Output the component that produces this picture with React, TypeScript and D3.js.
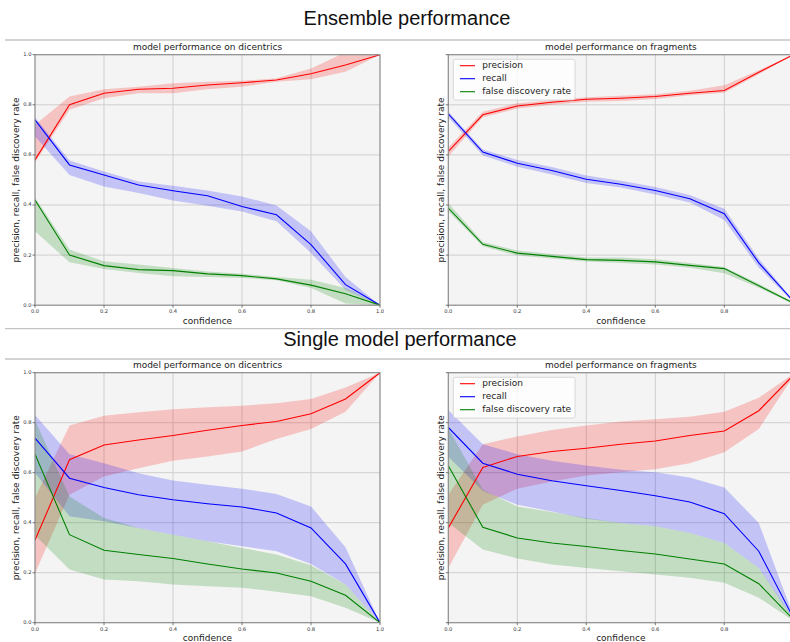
import React from 'react';
import * as d3 from 'd3';

const confidence = [0, 0.1, 0.2, 0.3, 0.4, 0.5, 0.6, 0.7, 0.8, 0.9, 1.0];
const tickValues = [0, 0.2, 0.4, 0.6, 0.8, 1.0];
const seriesNames = ['precision', 'recall', 'false discovery rate'];
const seriesColors = ['#ff0000', '#0000ff', '#008000'];

// Ensemble – dicentrics
const ensDicPrec = [0.58, 0.80, 0.846, 0.862, 0.866, 0.879, 0.888, 0.899, 0.924, 0.959, 1.0];
const ensDicPrecLo = [0.57, 0.78, 0.826, 0.846, 0.846, 0.862, 0.872, 0.892, 0.902, 0.932, 1.0];
const ensDicPrecHi = [0.72, 0.833, 0.862, 0.872, 0.886, 0.892, 0.896, 0.906, 0.945, 1.01, 1.0];
const ensDicRec = [0.74, 0.56, 0.52, 0.48, 0.457, 0.437, 0.394, 0.361, 0.242, 0.082, 0.0];
const ensDicRecLo = [0.673, 0.52, 0.474, 0.448, 0.418, 0.397, 0.374, 0.335, 0.208, 0.062, 0.0];
const ensDicRecHi = [0.75, 0.578, 0.534, 0.494, 0.477, 0.458, 0.434, 0.398, 0.295, 0.113, 0.0];
const ensDicFdr = [0.42, 0.20, 0.158, 0.142, 0.138, 0.125, 0.118, 0.105, 0.08, 0.046, 0.0];
const ensDicFdrLo = [0.295, 0.171, 0.145, 0.129, 0.116, 0.113, 0.109, 0.10, 0.069, 0.007, 0.0];
const ensDicFdrHi = [0.43, 0.222, 0.175, 0.162, 0.149, 0.135, 0.126, 0.113, 0.102, 0.069, 0.0];

// Ensemble – fragments
const ensFragPrec = [0.614, 0.76, 0.795, 0.81, 0.822, 0.826, 0.833, 0.846, 0.857, 0.93, 1.0];
const ensFragPrecLo = [0.594, 0.75, 0.785, 0.80, 0.812, 0.815, 0.823, 0.838, 0.848, 0.922, 1.0];
const ensFragPrecHi = [0.63, 0.772, 0.806, 0.818, 0.83, 0.836, 0.842, 0.856, 0.878, 0.938, 1.0];
const ensFragRec = [0.764, 0.611, 0.567, 0.538, 0.503, 0.483, 0.458, 0.425, 0.365, 0.169, 0.016];
const ensFragRecLo = [0.75, 0.598, 0.553, 0.522, 0.488, 0.47, 0.442, 0.41, 0.34, 0.15, 0.012];
const ensFragRecHi = [0.772, 0.622, 0.58, 0.552, 0.518, 0.497, 0.472, 0.44, 0.385, 0.185, 0.02];
const ensFragFdr = [0.388, 0.243, 0.208, 0.195, 0.182, 0.179, 0.173, 0.159, 0.146, 0.078, 0.009];
const ensFragFdrLo = [0.375, 0.235, 0.198, 0.186, 0.174, 0.168, 0.162, 0.15, 0.128, 0.07, 0.005];
const ensFragFdrHi = [0.408, 0.252, 0.218, 0.204, 0.19, 0.19, 0.183, 0.168, 0.152, 0.086, 0.012];

// Single model – dicentrics
const sinDicPrec = [0.33, 0.652, 0.711, 0.731, 0.749, 0.77, 0.789, 0.805, 0.836, 0.895, 1.0];
const sinDicPrecLo = [0.197, 0.512, 0.585, 0.618, 0.648, 0.665, 0.685, 0.735, 0.775, 0.844, 1.0];
const sinDicPrecHi = [0.5, 0.789, 0.828, 0.842, 0.854, 0.862, 0.868, 0.878, 0.895, 0.941, 1.0];
const sinDicRec = [0.738, 0.578, 0.541, 0.512, 0.492, 0.476, 0.463, 0.439, 0.379, 0.235, 0.0];
const sinDicRecLo = [0.6, 0.426, 0.406, 0.379, 0.352, 0.326, 0.306, 0.286, 0.235, 0.153, 0.0];
const sinDicRecHi = [0.831, 0.674, 0.638, 0.598, 0.569, 0.552, 0.536, 0.515, 0.465, 0.302, 0.0];
const sinDicFdr = [0.674, 0.352, 0.29, 0.273, 0.257, 0.235, 0.215, 0.199, 0.166, 0.11, 0.0];
const sinDicFdrLo = [0.35, 0.213, 0.173, 0.166, 0.153, 0.146, 0.14, 0.124, 0.106, 0.06, 0.0];
const sinDicFdrHi = [0.81, 0.505, 0.419, 0.379, 0.352, 0.326, 0.299, 0.273, 0.23, 0.153, 0.0];

// Single model – fragments
const sinFragPrec = [0.379, 0.621, 0.665, 0.685, 0.698, 0.714, 0.727, 0.749, 0.767, 0.848, 0.99];
const sinFragPrecLo = [0.219, 0.472, 0.536, 0.565, 0.589, 0.602, 0.614, 0.638, 0.682, 0.775, 0.985];
const sinFragPrecHi = [0.512, 0.714, 0.745, 0.771, 0.789, 0.805, 0.814, 0.824, 0.844, 0.9, 0.995];
const sinFragRec = [0.781, 0.638, 0.594, 0.568, 0.548, 0.529, 0.508, 0.483, 0.436, 0.286, 0.02];
const sinFragRecLo = [0.664, 0.528, 0.472, 0.445, 0.416, 0.399, 0.386, 0.359, 0.319, 0.219, 0.013];
const sinFragRecHi = [0.851, 0.714, 0.674, 0.648, 0.629, 0.612, 0.602, 0.581, 0.541, 0.399, 0.027];
const sinFragFdr = [0.628, 0.382, 0.339, 0.319, 0.305, 0.289, 0.275, 0.255, 0.235, 0.156, 0.013];
const sinFragFdrLo = [0.40, 0.293, 0.257, 0.233, 0.219, 0.206, 0.193, 0.18, 0.16, 0.1, 0.008];
const sinFragFdrHi = [0.778, 0.532, 0.465, 0.443, 0.419, 0.399, 0.386, 0.359, 0.319, 0.219, 0.018];

type S = { mean: number[]; lo: number[]; hi: number[] };
const mk = (mean: number[], lo: number[], hi: number[]): S => ({ mean, lo, hi });

const FONT = '"DejaVu Sans", sans-serif';

function Panel(props: {
  id: string; x0: number; y0: number; w: number; h: number; title: string;
  yTickLabels: boolean; yLabelX: number; legend: boolean; series: S[];
}) {
  const { id, x0, y0, w, h, title, yTickLabels, yLabelX, legend, series } = props;
  const x = d3.scaleLinear().domain([0, 1]).range([x0, x0 + w]);
  const y = d3.scaleLinear().domain([0, 1]).range([y0 + h, y0]);
  const fmt = d3.format('.1f');
  const idx = confidence.map((_, i) => i);
  return (
    <g>
      <defs>
        <clipPath id={id}>
          <rect x={x0} y={y0} width={w} height={h} />
        </clipPath>
      </defs>
      <rect x={x0} y={y0} width={w} height={h} fill="#f4f4f4" />
      {tickValues.slice(1, -1).map(t => (
        <g key={'g' + t}>
          <line x1={x(t)} x2={x(t)} y1={y0} y2={y0 + h} stroke="#cfcfcf" strokeWidth={1} />
          <line x1={x0} x2={x0 + w} y1={y(t)} y2={y(t)} stroke="#cfcfcf" strokeWidth={1} />
        </g>
      ))}
      <g clipPath={`url(#${id})`}>
        {series.map((s, k) => {
          const area = d3.area<number>().x(i => x(confidence[i])).y0(i => y(s.lo[i])).y1(i => y(s.hi[i]));
          return <path key={'a' + k} d={area(idx) || ''} fill={seriesColors[k]} fillOpacity={0.2} stroke="none" />;
        })}
        {series.map((s, k) => {
          const line = d3.line<number>().x(i => x(confidence[i])).y(i => y(s.mean[i]));
          return <path key={'l' + k} d={line(idx) || ''} fill="none" stroke={seriesColors[k]} strokeWidth={1.1} />;
        })}
      </g>
      <rect x={x0} y={y0} width={w} height={h} fill="none" stroke="#8a8a8a" strokeWidth={1.2} />
      {tickValues.map(t => (
        <g key={'xt' + t}>
          <line x1={x(t)} x2={x(t)} y1={y0 + h} y2={y0 + h + 2.5} stroke="#555" strokeWidth={0.8} />
          <text x={x(t)} y={y0 + h + 6.8} fontSize={5.2} fontFamily={FONT} fill="#333" textAnchor="middle" dominantBaseline="middle">{fmt(t)}</text>
        </g>
      ))}
      {tickValues.map(t => (
        <g key={'yt' + t}>
          <line x1={x0 - 2.5} x2={x0} y1={y(t)} y2={y(t)} stroke="#555" strokeWidth={0.8} />
          {yTickLabels && (
            <text x={x0 - 3.5} y={y(t)} fontSize={5.2} fontFamily={FONT} fill="#333" textAnchor="end" dominantBaseline="middle">{fmt(t)}</text>
          )}
        </g>
      ))}
      <text x={x0 + w / 2} y={y0 - 7.4} fontSize={9} fontFamily={FONT} fill="#222" textAnchor="middle" dominantBaseline="middle">{title}</text>
      <text x={x0 + w / 2} y={y0 + h + 16} fontSize={9} fontFamily={FONT} fill="#222" textAnchor="middle" dominantBaseline="middle">confidence</text>
      <text transform={`translate(${yLabelX},${y0 + h / 2}) rotate(-90)`} fontSize={9} fontFamily={FONT} fill="#222" textAnchor="middle" dominantBaseline="middle">precision, recall, false discovery rate</text>
      {legend && (
        <g>
          <rect x={x0 + 5} y={y0 + 4.6} width={121.7} height={40.7} rx={2} fill="#ffffff" fillOpacity={0.8} stroke="#d0d0d0" strokeWidth={0.8} />
          {seriesNames.map((n, k) => (
            <g key={n}>
              <line x1={x0 + 11.7} x2={x0 + 26.7} y1={y0 + 11 + k * 13} y2={y0 + 11 + k * 13} stroke={seriesColors[k]} strokeWidth={1.1} />
              <text x={x0 + 34} y={y0 + 11 + k * 13} fontSize={9} fontFamily={FONT} fill="#222" dominantBaseline="middle">{n}</text>
            </g>
          ))}
        </g>
      )}
    </g>
  );
}

export default function App() {
  const W = 790, H = 642;
  const pw = 345;
  return (
    <svg width={W} height={H} style={{ position: 'absolute', left: 0, top: 0, background: '#fff' }}>
      <rect x={0} y={0} width={W} height={H} fill="#fff" />
      <text x={407} y={20} fontSize={20} fontFamily='"Liberation Sans", Arial, sans-serif' fill="#111" textAnchor="middle" dominantBaseline="middle">Ensemble performance</text>
      <text x={400} y={341} fontSize={20} fontFamily='"Liberation Sans", Arial, sans-serif' fill="#111" textAnchor="middle" dominantBaseline="middle">Single model performance</text>
      <line x1={5} x2={790} y1={40} y2={40} stroke="#c4c4c4" strokeWidth={1.3} />
      <line x1={5} x2={790} y1={328.6} y2={328.6} stroke="#c4c4c4" strokeWidth={1.3} />
      <line x1={5} x2={790} y1={359} y2={359} stroke="#c4c4c4" strokeWidth={1.3} />
      <Panel id="cA" x0={35} y0={54.7} w={pw} h={250.5} title="model performance on dicentrics" yTickLabels yLabelX={16} legend={false}
        series={[mk(ensDicPrec, ensDicPrecLo, ensDicPrecHi), mk(ensDicRec, ensDicRecLo, ensDicRecHi), mk(ensDicFdr, ensDicFdrLo, ensDicFdrHi)]} />
      <Panel id="cB" x0={448.3} y0={54.7} w={pw} h={250.5} title="model performance on fragments" yTickLabels={false} yLabelX={441} legend
        series={[mk(ensFragPrec, ensFragPrecLo, ensFragPrecHi), mk(ensFragRec, ensFragRecLo, ensFragRecHi), mk(ensFragFdr, ensFragFdrLo, ensFragFdrHi)]} />
      <Panel id="cC" x0={35} y0={372.7} w={pw} h={250} title="model performance on dicentrics" yTickLabels yLabelX={16} legend={false}
        series={[mk(sinDicPrec, sinDicPrecLo, sinDicPrecHi), mk(sinDicRec, sinDicRecLo, sinDicRecHi), mk(sinDicFdr, sinDicFdrLo, sinDicFdrHi)]} />
      <Panel id="cD" x0={448.3} y0={372.7} w={pw} h={250} title="model performance on fragments" yTickLabels={false} yLabelX={441} legend
        series={[mk(sinFragPrec, sinFragPrecLo, sinFragPrecHi), mk(sinFragRec, sinFragRecLo, sinFragRecHi), mk(sinFragFdr, sinFragFdrLo, sinFragFdrHi)]} />
    </svg>
  );
}
